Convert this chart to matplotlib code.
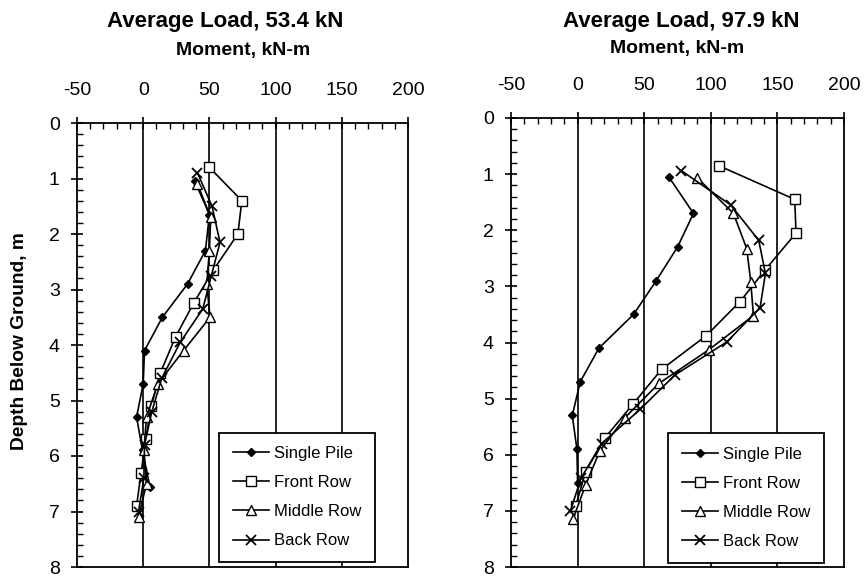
import numpy as np
import matplotlib
matplotlib.use("Agg")
import matplotlib.pyplot as plt
from matplotlib.ticker import MultipleLocator

plt.rcParams['font.family'] = ['Liberation Sans', 'DejaVu Sans']
plt.rcParams['axes.unicode_minus'] = False

series_names = ["Single Pile", "Front Row", "Middle Row", "Back Row"]
titles = ["Average Load, 53.4 kN", "Average Load, 97.9 kN"]

# left panel, 53.4 kN
single_d1 = [1.05, 1.65, 2.3, 2.9, 3.5, 4.1, 4.7, 5.3, 5.9, 6.55]
single_m1 = [39, 50, 47, 33.5, 14.5, 1, 0, -5, -0.5, 5]
front_d1 = [0.8, 1.4, 2.0, 2.65, 3.25, 3.85, 4.5, 5.1, 5.7, 6.3, 6.9]
front_m1 = [50, 74.5, 71.5, 53, 38, 24.5, 13, 6, 2, -1.6, -5]
middle_d1 = [1.1, 1.7, 2.3, 2.9, 3.5, 4.1, 4.7, 5.3, 5.9, 6.5, 7.1]
middle_m1 = [41, 51, 50, 48, 50.5, 30.5, 11, 2.5, 0.5, 2.5, -3.5]
back_d1 = [0.9, 1.5, 2.15, 2.75, 3.35, 3.95, 4.6, 5.2, 5.8, 6.4, 7.0]
back_m1 = [41, 52, 58, 51.5, 45, 28, 14, 6.5, 1, 0.5, -3.5]

# right panel, 97.9 kN
single_d2 = [1.05, 1.7, 2.3, 2.9, 3.5, 4.1, 4.7, 5.3, 5.9, 6.5]
single_m2 = [68.5, 87, 75, 59, 42, 16, 2, -4, -0.5, 0]
front_d2 = [0.85, 1.45, 2.05, 2.7, 3.27, 3.88, 4.48, 5.1, 5.7, 6.3, 6.92]
front_m2 = [106, 163, 164, 141, 122, 96.5, 63, 41.5, 20.5, 6, -1.5]
middle_d2 = [1.07, 1.7, 2.33, 2.92, 3.52, 4.13, 4.73, 5.34, 5.94, 6.54, 7.15]
middle_m2 = [90, 117, 127, 130, 132, 98.5, 61, 35.5, 16.5, 6, -3.5]
back_d2 = [0.94, 1.55, 2.18, 2.77, 3.38, 3.99, 4.58, 5.19, 5.8, 6.42, 7.01]
back_m2 = [78, 115, 136, 141, 137, 112, 73, 47, 18, 2.5, -5.5]

panels = [
    [(single_m1, single_d1), (front_m1, front_d1), (middle_m1, middle_d1), (back_m1, back_d1)],
    [(single_m2, single_d2), (front_m2, front_d2), (middle_m2, middle_d2), (back_m2, back_d2)],
]

styles = [
    dict(marker='D', markersize=4.5, markerfacecolor='black'),
    dict(marker='s', markersize=6.5, markerfacecolor='white'),
    dict(marker='^', markersize=6.5, markerfacecolor='white'),
    dict(marker='x', markersize=7, markeredgewidth=1.3),
]

fig = plt.figure(figsize=(8.64, 5.79), dpi=100)
# pixel boxes: left 77-408 / 123-567, right 511-844 / 118-567
ax1 = fig.add_axes([77 / 864, 1 - 567 / 579, 331 / 864, 444 / 579])
ax2 = fig.add_axes([511 / 864, 1 - 567 / 579, 333 / 864, 449 / 579])
legend_anchor = [(0.90, 0.012), (0.94, 0.01)]

for i, ax in enumerate([ax1, ax2]):
    for (m, d), name, st in zip(panels[i], series_names, styles):
        ax.plot(m, d, color='black', linewidth=1.2, markeredgecolor='black',
                label=name, zorder=3, **st)
    for gx in [0, 50, 100, 150]:
        ax.axvline(gx, color='black', linewidth=1.2, zorder=1)
    ax.set_xlim(-50, 200)
    ax.set_ylim(8, 0)
    ax.xaxis.set_major_locator(MultipleLocator(50))
    ax.xaxis.set_minor_locator(MultipleLocator(10))
    ax.yaxis.set_major_locator(MultipleLocator(1))
    ax.yaxis.set_minor_locator(MultipleLocator(0.2))
    ax.xaxis.tick_top()
    ax.tick_params(axis='x', which='major', direction='inout', length=9, width=1.2,
                   labelsize=14, pad=13, top=True, bottom=False)
    ax.tick_params(axis='x', which='minor', direction='in', length=4, width=1,
                   top=True, bottom=False)
    ax.tick_params(axis='y', which='major', direction='inout', length=9, width=1.2,
                   labelsize=14, pad=8, right=False)
    ax.tick_params(axis='y', which='minor', direction='in', length=4, width=1, right=False)
    for sp in ax.spines.values():
        sp.set_linewidth(1.3)
    leg = ax.legend(loc='lower right', bbox_to_anchor=legend_anchor[i], borderaxespad=0,
                    fontsize=12, frameon=True, fancybox=False, edgecolor='black',
                    framealpha=1, handlelength=2.2, labelspacing=0.85,
                    borderpad=0.8, handletextpad=0.3)
    leg.get_frame().set_linewidth(1.3)
    leg.set_zorder(5)

fig.text(225 / 864, 1 - 21 / 579, titles[0], ha='center', va='center',
         fontsize=16, fontweight='bold')
fig.text(243 / 864, 1 - 50 / 579, "Moment, kN-m", ha='center', va='center',
         fontsize=14, fontweight='bold')
fig.text(681 / 864, 1 - 21 / 579, titles[1], ha='center', va='center',
         fontsize=16, fontweight='bold')
fig.text(677 / 864, 1 - 48 / 579, "Moment, kN-m", ha='center', va='center',
         fontsize=14, fontweight='bold')
fig.text(20 / 864, 1 - 341 / 579, "Depth Below Ground, m", ha='center', va='center',
         rotation=90, fontsize=13.8, fontweight='bold')

fig.savefig("out.png", dpi=100)
